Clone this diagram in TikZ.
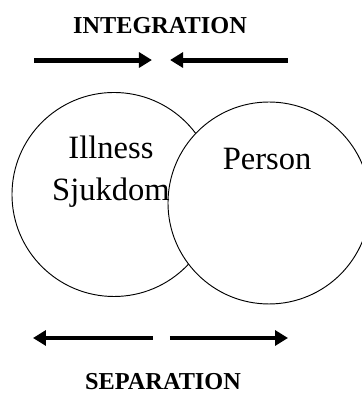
\documentclass[tikz,border=0pt]{standalone}
\usepackage{fontspec}
\setmainfont{Liberation Serif}
\usetikzlibrary{arrows.meta, positioning}
\def\circsize{5.398cm}

\begin{document}
\begin{tikzpicture}[>={Triangle[length=9.75pt,width=11.25pt]}]
    \tikzstyle{blob}=[circle, draw=black, line width=0.7pt, fill=white, minimum size=\circsize, inner sep=0pt]
    \tikzstyle{push}=[->, line width=3.75pt]
    \tikzstyle{heading}=[font=\fontsize{18.3}{22}\selectfont\bfseries, inner sep=0pt]
    \tikzstyle{word}=[font=\fontsize{24.5}{32}\selectfont, align=center, inner sep=0pt]

    \useasboundingbox (0,0) rectangle (9.578,-10.425);
    \clip (0,0) rectangle (9.578,-10.425);

    % Draw the two circles (the right one lies on top)
    \node[blob] (illness) at (3.016,-5.146) {};
    \node[blob, minimum size=5.344cm] (person) at (7.117,-5.371) {};

    % Text inside the circles
    \node[word] (illness-txt) at ([shift={(-0.08,0.6)}]illness.center) {Illness\\Sjukdom};
    \node[word] (person-txt) at ([shift={(-0.05,1.164)}]person.center) {Person};

    % Headings
    \node[heading] (integ) at (4.233,-0.688) {INTEGRATION};
    \node[heading] (sep) at (4.313,-10.107) {SEPARATION};

    % Ends of the arrows
    \coordinate (in-L) at (0.90,-1.588);
    \coordinate (in-ML) at (4.02,-1.588);
    \coordinate (in-MR) at (4.50,-1.588);
    \coordinate (in-R) at (7.62,-1.588);
    \coordinate (out-L) at (0.873,-8.943);
    \coordinate (out-ML) at (4.048,-8.943);
    \coordinate (out-MR) at (4.498,-8.943);
    \coordinate (out-R) at (7.62,-8.943);

    % Arrows pointing in and out
    \draw[push] (in-L) -- (in-ML);
    \draw[push] (in-R) -- (in-MR);
    \draw[push] (out-ML) -- (out-L);
    \draw[push] (out-MR) -- (out-R);

\end{tikzpicture}
\end{document}
